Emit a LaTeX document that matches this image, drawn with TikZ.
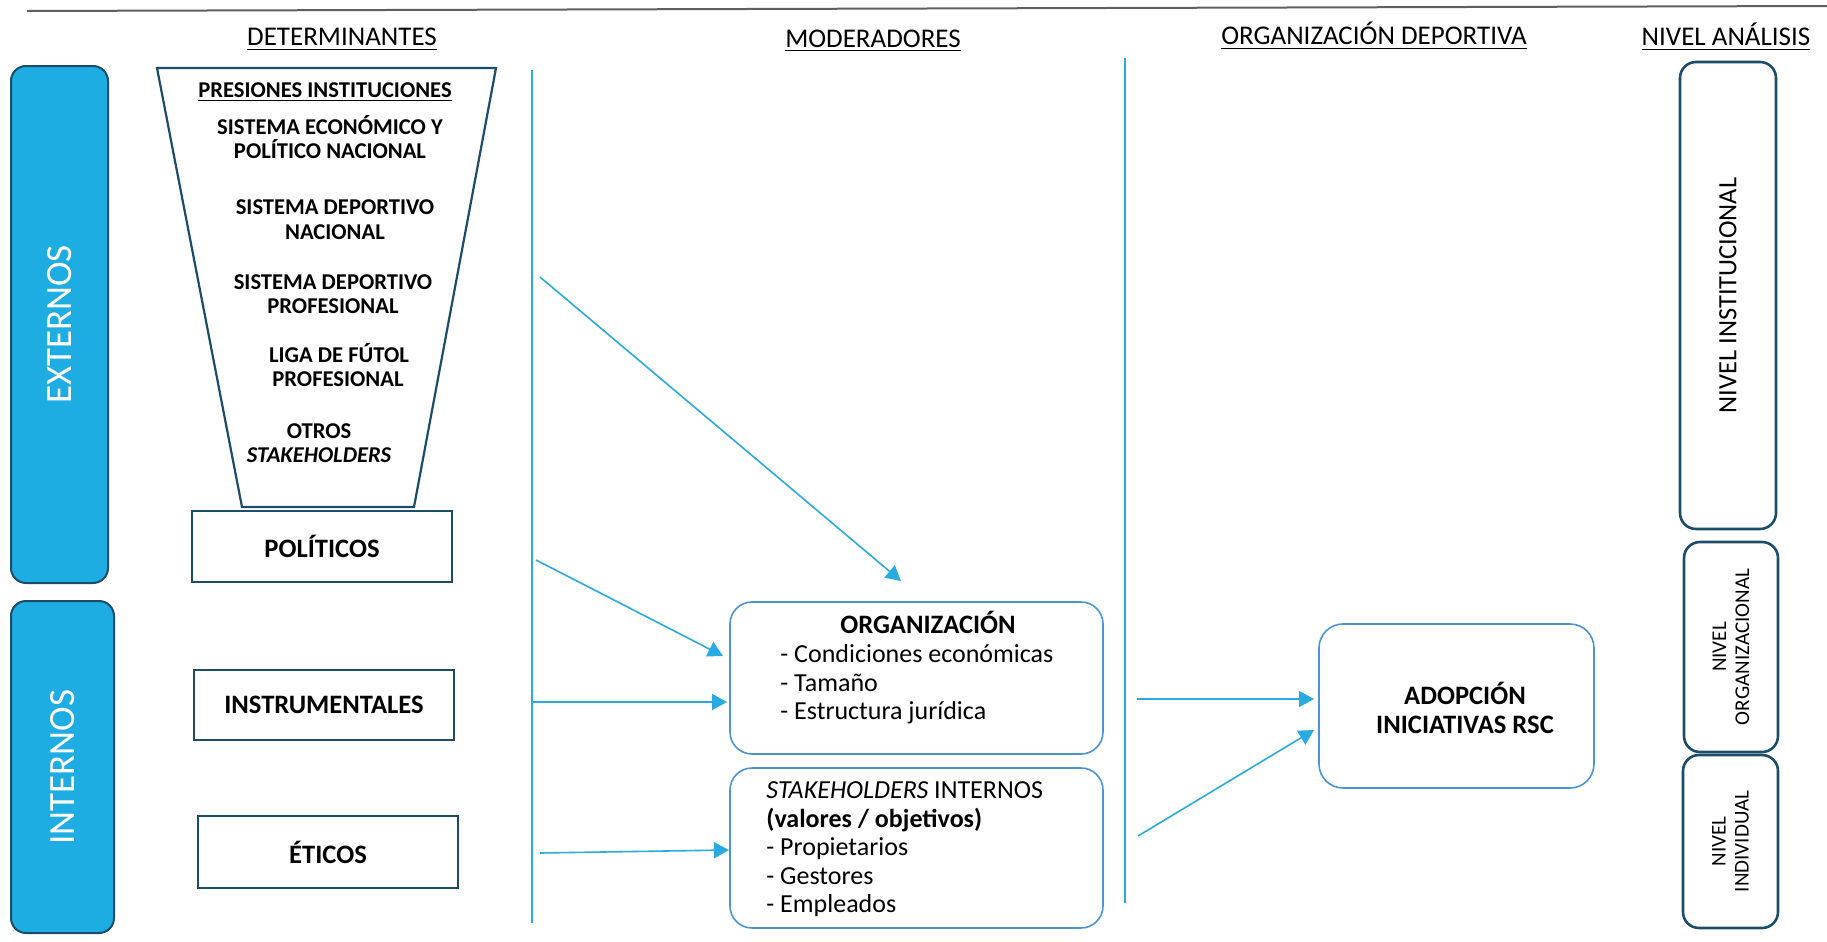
\documentclass[tikz,border=0pt]{standalone}
\usepackage{fontspec}
\setmainfont{Carlito}
\usetikzlibrary{arrows.meta,fit}
\definecolor{sidefill}{HTML}{1EADE3}
\definecolor{navy}{HTML}{1B4D6A}
\definecolor{cyanline}{HTML}{29ABE2}
\definecolor{modblue}{HTML}{4A94D6}
\begin{document}
\begin{tikzpicture}[x=0.5pt,y=-0.5pt,
  sidebox/.style={draw=navy, line width=1pt, fill=sidefill, rounded corners=7.5pt, inner sep=0pt},
  detbox/.style={draw=navy, line width=1.1pt, fill=white, inner sep=0pt},
  modbox/.style={draw=modblue, line width=0.8pt, rounded corners=11pt, inner sep=0pt},
  nivbox/.style={draw=navy, line width=1.3pt, rounded corners=8pt, inner sep=0pt},
  conn/.style={draw=cyanline, line width=0.8pt, -{Triangle[length=7.5pt,width=8pt,fill=cyanline]}},
  guide/.style={draw=cyanline, line width=0.8pt},
  hdr/.style={font=\fontsize{13.5}{16}\selectfont, anchor=base, inner sep=0pt},
  ftxt/.style={font=\fontsize{11.3}{13}\selectfont\bfseries, anchor=base, inner sep=0pt},
  btxt/.style={font=\fontsize{13.3}{15}\selectfont\bfseries, inner sep=0pt},
  itxt/.style={font=\fontsize{13}{15}\selectfont, anchor=base west, inner sep=0pt},
  sidetxt/.style={font=\fontsize{18.5}{20}\selectfont, text=white, rotate=90, inner sep=0pt},
  nivtxt/.style={rotate=90, align=center, inner sep=0pt}
]
\useasboundingbox (0,0) rectangle (1827,942);

% top rule
\coordinate (tl) at (27,11);
\coordinate (tr) at (1827,6);
\draw[gray!75!black, line width=1pt] (tl) -- (tr);

% headers
\node[hdr] (hdet) at (342,46) {\underline{DETERMINANTES}};
\node[hdr] (hmod) at (873,47) {\underline{MODERADORES}};
\node[hdr] (horg) at (1374,45) {\underline{ORGANIZACIÓN DEPORTIVA}};
\node[hdr] (hniv) at (1726,46) {\underline{NIVEL ANÁLISIS}};

% side boxes
\node[sidebox, fit={(11,66) (108,583)}] (ext) {};
\node[sidetxt] (extt) at (ext.center) {EXTERNOS};
\node[sidebox, fit={(11,601) (114,933)}] (int) {};
\node[sidetxt] (intt) at (int.center) {INTERNOS};

% funnel
\draw[navy, line width=1.1pt] (157,68) -- (496,68) -- (414,507) -- (242,507) -- cycle;
\node[ftxt] (f0) at (325,97) {\underline{PRESIONES INSTITUCIONES}};
\node[ftxt] (f1a) at (330,134) {SISTEMA ECONÓMICO Y};
\node[ftxt] (f1b) at (330,158) {POLÍTICO NACIONAL};
\node[ftxt] (f2a) at (335,214) {SISTEMA DEPORTIVO};
\node[ftxt] (f2b) at (335,239) {NACIONAL};
\node[ftxt] (f3a) at (333,289) {SISTEMA DEPORTIVO};
\node[ftxt] (f3b) at (333,313) {PROFESIONAL};
\node[ftxt] (f4a) at (339,362) {LIGA DE FÚTOL};
\node[ftxt] (f4b) at (338,386) {PROFESIONAL};
\node[ftxt] (f5a) at (319,438) {OTROS};
\node[ftxt] (f5b) at (319,462) {\itshape STAKEHOLDERS};

% determinant boxes
\node[detbox, fit={(192,511) (452,582)}] (pol) {};
\node[btxt] (polt) at (pol.center) {POLÍTICOS};
\node[detbox, fit={(194,670) (454,740)}] (ins) {};
\node[btxt] (inst) at (ins.center) {INSTRUMENTALES};
\node[detbox, fit={(198,816) (458,888)}] (eti) {};
\node[btxt] (etit) at (eti.center) {ÉTICOS};

% guide lines
\coordinate (g1t) at (532,70);
\coordinate (g1b) at (532,923);
\coordinate (g2t) at (1125,58);
\coordinate (g2b) at (1125,903);
\draw[guide] (g1t) -- (g1b);
\draw[guide] (g2t) -- (g2b);

% moderator boxes
\node[modbox, fit={(730,602) (1103,754)}] (org) {};
\node[btxt, anchor=base] (orgt) at (928,633) {ORGANIZACIÓN};
\node[itxt] (o1) at (780,662) {- Condiciones económicas};
\node[itxt] (o2) at (780,691) {- Tamaño};
\node[itxt] (o3) at (780,719) {- Estructura jurídica};

\node[modbox, fit={(730,768) (1103,928)}] (stk) {};
\node[itxt] (s0) at (766,798) {\textit{STAKEHOLDERS} INTERNOS};
\node[itxt, font=\fontsize{13}{15}\selectfont\bfseries] (s1) at (766,827) {(valores / objetivos)};
\node[itxt] (s2) at (766,855) {- Propietarios};
\node[itxt] (s3) at (766,884) {- Gestores};
\node[itxt] (s4) at (766,912) {- Empleados};

% outcome box
\node[modbox, rounded corners=12pt, fit={(1319,624) (1594,788)}] (rsc) {};
\node[btxt, anchor=base] (rsc1) at (1465,704) {ADOPCIÓN};
\node[btxt, anchor=base] (rsc2) at (1465,733) {INICIATIVAS RSC};

% level boxes
\node[nivbox, fit={(1680,62) (1776,529)}] (nins) {};
\node[nivtxt, font=\fontsize{13.2}{15}\selectfont] (ninst) at (nins.center) {NIVEL INSTITUCIONAL};
\node[nivbox, fit={(1684,542) (1778,752)}] (norg) {};
\node[nivtxt, font=\fontsize{10.5}{11.5}\selectfont] (norgt) at (norg.center) {NIVEL\\ORGANIZACIONAL};
\node[nivbox, fit={(1683,755) (1778,928)}] (nind) {};
\node[nivtxt, font=\fontsize{10.5}{11.5}\selectfont] (nindt) at (nind.center) {NIVEL\\INDIVIDUAL};

% connectors
\coordinate (a1s) at (540,277);  \coordinate (a1e) at (901,581);
\coordinate (a2s) at (536,560);  \coordinate (a2e) at (723,656);
\coordinate (a3s) at (532,702);  \coordinate (a3e) at (727,702);
\coordinate (a4s) at (540,853);  \coordinate (a4e) at (729,850);
\coordinate (a5s) at (1137,699); \coordinate (a5e) at (1314,699);
\coordinate (a6s) at (1138,836); \coordinate (a6e) at (1314,730);
\draw[conn] (a1s) -- (a1e);
\draw[conn] (a2s) -- (a2e);
\draw[conn] (a3s) -- (a3e);
\draw[conn] (a4s) -- (a4e);
\draw[conn] (a5s) -- (a5e);
\draw[conn] (a6s) -- (a6e);
\end{tikzpicture}
\end{document}
